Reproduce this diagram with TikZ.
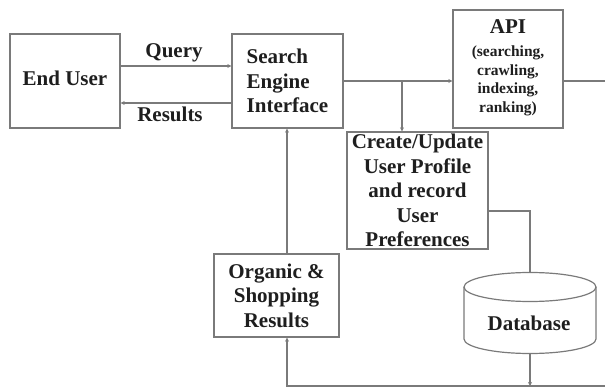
\documentclass[tikz,border=0pt]{standalone}
\usepackage{fontspec}
\setmainfont{Liberation Serif}
\usetikzlibrary{arrows.meta}
\definecolor{edge}{RGB}{122,122,122}
\definecolor{ink}{RGB}{30,30,30}
\tikzset{
  box/.style={draw=edge, line width=1.3pt, fill=white, inner sep=0pt,
    text=ink, font=\bfseries\fontsize{21}{24.5}\selectfont, align=center},
  link/.style={draw=edge, line width=1.2pt},
  arr/.style={link, -{Stealth[length=4pt,width=4pt]}},
  lbl/.style={text=ink, font=\bfseries\fontsize{21}{24}\selectfont, inner sep=0pt}
}
\begin{document}
\begin{tikzpicture}[x=1pt, y=-1pt]
\useasboundingbox (0,0) rectangle (605,390);

% boxes
\node[box, minimum width=110, minimum height=94] (eu) at (65,81)
  {\raisebox{6pt}{End User}};
\node[box, minimum width=111, minimum height=94, align=left] (sei) at (287.5,81)
  {Search\\Engine\\Interface};
\node[box, minimum width=110, minimum height=118,
      font=\bfseries\fontsize{15.5}{18.6}\selectfont] (api) at (508,69)
  {\raisebox{-2pt}{\begin{tabular}{@{}c@{}}
     {\fontsize{21}{21}\selectfont API}\\[4pt]
     (searching,\\crawling,\\indexing,\\ranking)
   \end{tabular}}};
\node[box, minimum width=141, minimum height=117] (cu) at (417.5,190.5)
  {Create/Update\\User Profile\\and record\\User\\Preferences};
\node[box, minimum width=125, minimum height=83] (org) at (276.5,295.5)
  {Organic \&\\Shopping\\Results};

% database cylinder (y axis points down, so arcs run 180 -> 0 along the bottom)
\coordinate (dbtop) at (530,272.5);
\coordinate (dbbot) at (530,353.5);
\fill[white] (464,287) -- (464,339) arc[start angle=180, end angle=0, x radius=66, y radius=14.5]
  -- (596,287) -- cycle;
\draw[link] (464,287) -- (464,339) arc[start angle=180, end angle=0, x radius=66, y radius=14.5]
  -- (596,287);
\draw[link, fill=white] (530,287) ellipse[x radius=66, y radius=14.5];
\node[lbl] (db) at (529,323) {Database};

% connectors between user and interface
\coordinate (q1) at (eu.east |- 0,66);
\coordinate (q2) at (sei.west |- 0,66);
\draw[arr] (q1) -- (q2);
\node[lbl] (ql) at (174,53) {Query};
\coordinate (r1) at (sei.west |- 0,103);
\coordinate (r2) at (eu.east |- 0,103);
\draw[arr] (r1) -- (r2);
\node[lbl] (rl) at (170,114) {Results};

% interface to API, with branch to the profile box
\coordinate (br) at (402,81);
\draw[arr] (sei.east) -- (api.west |- sei.east);
\draw[arr] (br) -- (cu.north -| br);
\coordinate (a1) at (api.east |- 0,81);
\coordinate (a2) at (605,81);
\draw[link] (a1) -- (a2);

% profile box to database
\coordinate (c1) at (cu.east |- 0,211);
\coordinate (c2) at (530,211);
\draw[link] (c1) -- (c2) -- (dbtop);

% database down to the return line
\coordinate (d1) at (530,386);
\draw[arr] (dbbot) -- (d1);

% return line into organic results, then up to the interface
\coordinate (b1) at (605,386);
\coordinate (b2) at (287,386);
\draw[arr] (b1) -- (b2) -- (org.south -| b2);
\draw[arr] (org.north -| b2) -- (sei.south -| b2);
\end{tikzpicture}
\end{document}
